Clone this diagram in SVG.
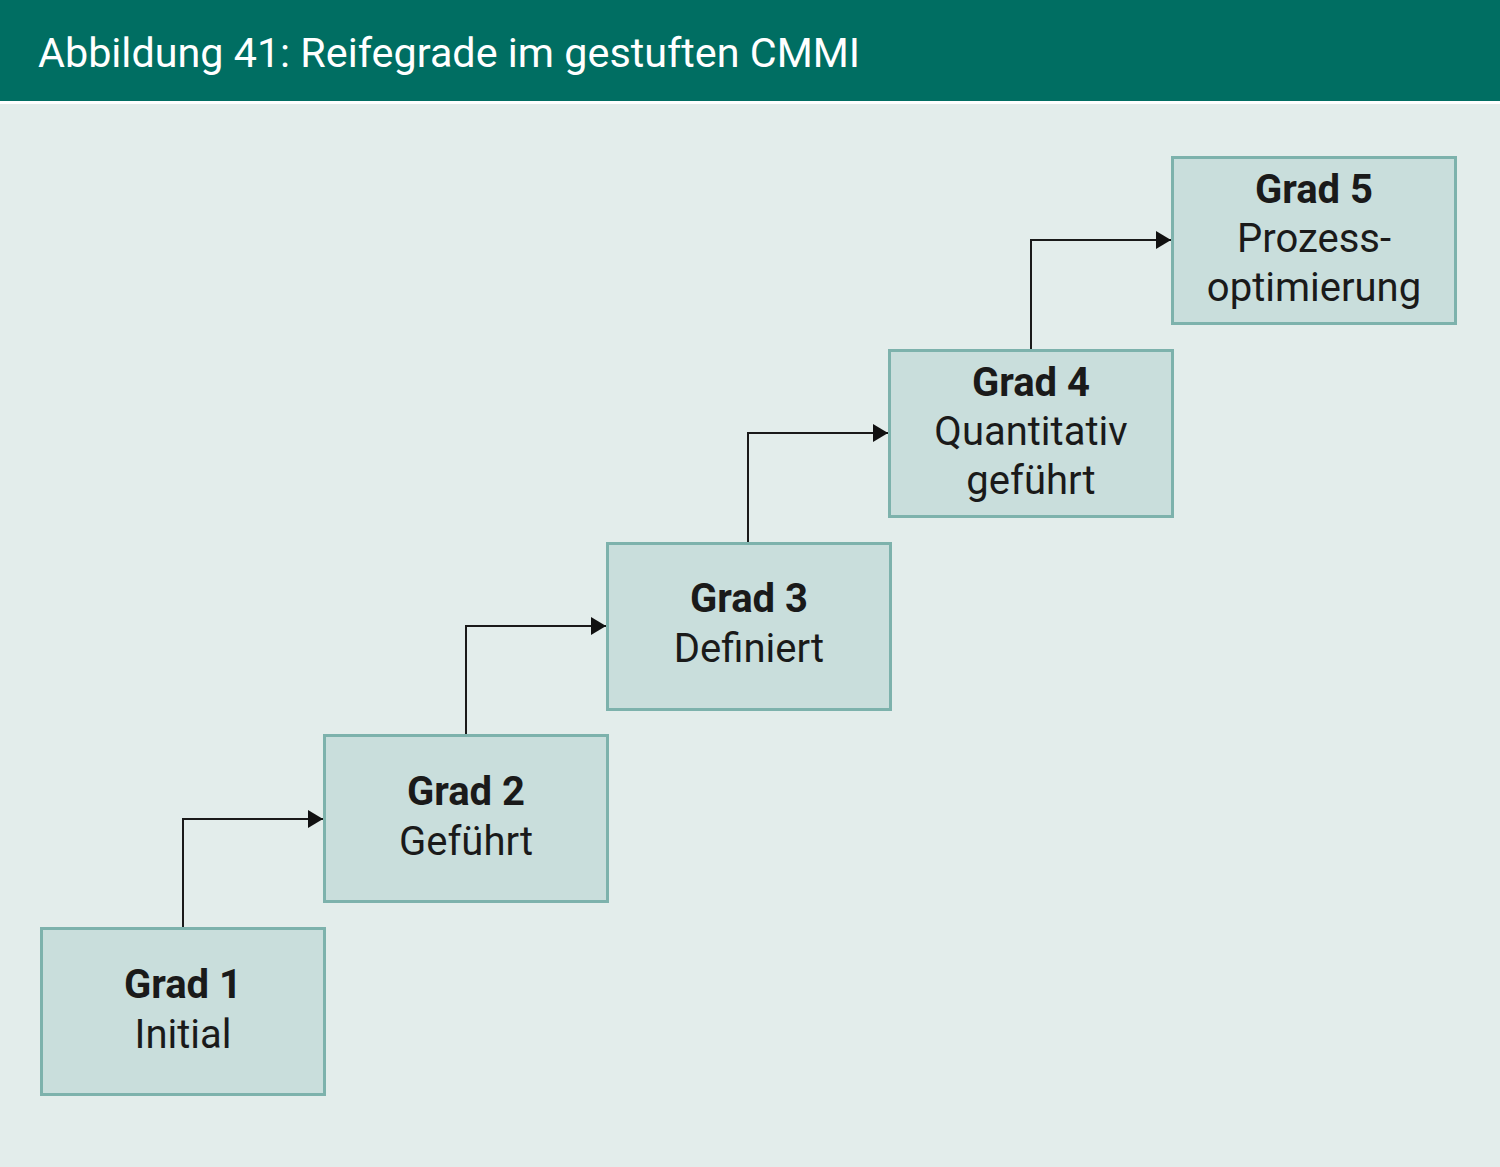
<svg xmlns="http://www.w3.org/2000/svg" width="1500" height="1167" viewBox="0 0 1500 1167">
<defs>
<style>
.box{fill:#c9dedc;stroke:#7db2ac;stroke-width:3}
.t{font-family:Roboto,"Liberation Sans",sans-serif;font-size:40px;fill:#1a1a1a;text-anchor:middle}
.b{font-weight:bold}
.con{fill:none;stroke:#1a1a1a;stroke-width:2}
</style>
<marker id="ah" viewBox="0 0 15 18" refX="15" refY="9" markerWidth="15" markerHeight="18" markerUnits="userSpaceOnUse" orient="auto">
<path d="M0,0 L15,9 L0,18 z" fill="#111"/>
</marker>
</defs>
<rect x="0" y="0" width="1500" height="1167" fill="#e3edeb"/>
<rect x="0" y="0" width="1500" height="101" fill="#006e62"/>
<rect x="0" y="101" width="1500" height="3" fill="#ffffff"/>
<text x="38" y="67" font-family="Roboto,'Liberation Sans',sans-serif" font-size="41.3" fill="#ffffff">Abbildung 41: Reifegrade im gestuften CMMI</text>
<g id="connectors">
<path class="con" d="M183,927 V819 H323" marker-end="url(#ah)"/>
<path class="con" d="M466,735 V626 H606" marker-end="url(#ah)"/>
<path class="con" d="M748,543 V433 H888" marker-end="url(#ah)"/>
<path class="con" d="M1031,350 V240 H1171" marker-end="url(#ah)"/>
</g>
<g id="grad1">
<rect class="box" x="41.5" y="928.5" width="283" height="166"/>
<text class="t b" x="183" y="998">Grad 1</text>
<text class="t" x="183" y="1048">Initial</text>
</g>
<g id="grad2">
<rect class="box" x="324.5" y="735.5" width="283" height="166"/>
<text class="t b" x="466" y="805">Grad 2</text>
<text class="t" x="466" y="855">Geführt</text>
</g>
<g id="grad3">
<rect class="box" x="607.5" y="543.5" width="283" height="166"/>
<text class="t b" x="749" y="612">Grad 3</text>
<text class="t" x="749" y="662">Definiert</text>
</g>
<g id="grad4">
<rect class="box" x="889.5" y="350.5" width="283" height="166"/>
<text class="t b" x="1031" y="396">Grad 4</text>
<text class="t" x="1031" y="445">Quantitativ</text>
<text class="t" x="1031" y="494">geführt</text>
</g>
<g id="grad5">
<rect class="box" x="1172.5" y="157.5" width="283" height="166"/>
<text class="t b" x="1314" y="203">Grad 5</text>
<text class="t" x="1314" y="252">Prozess-</text>
<text class="t" x="1314" y="301">optimierung</text>
</g>
</svg>
